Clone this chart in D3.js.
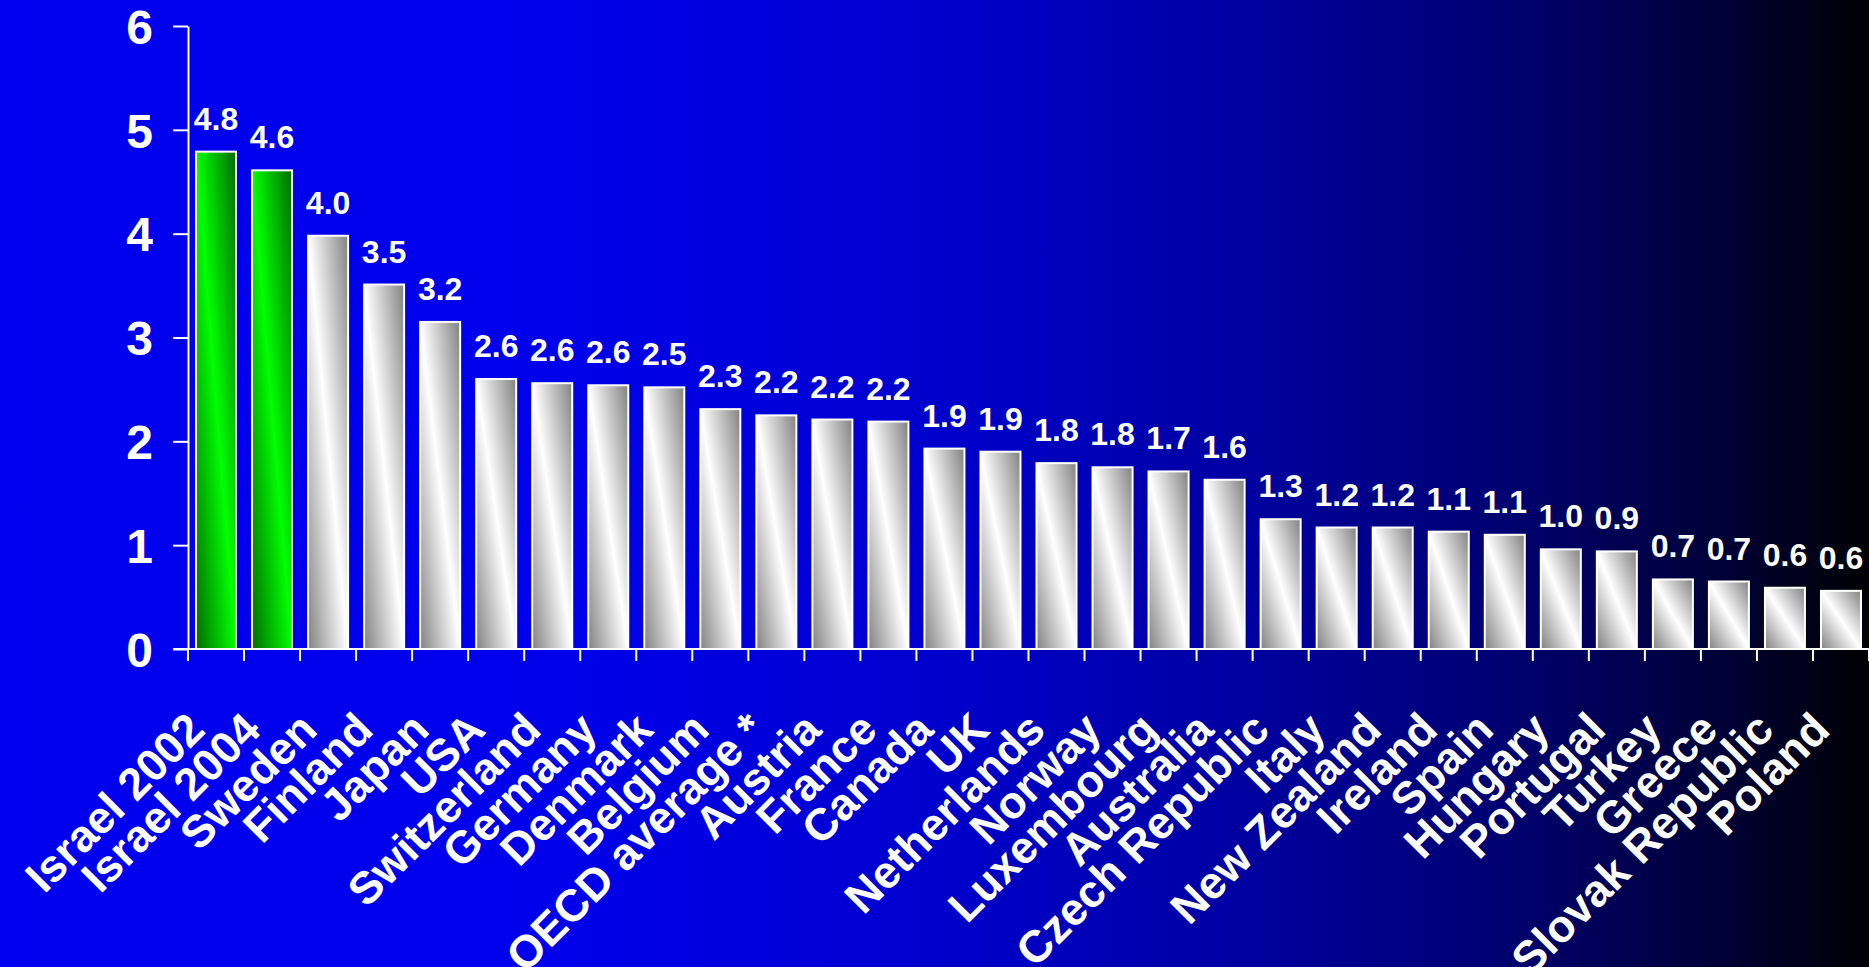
<!DOCTYPE html>
<html>
<head>
<meta charset="utf-8">
<script src="https://cdn.jsdelivr.net/npm/d3@7"></script>
<style>
  html, body { margin: 0; padding: 0; background: #000; overflow: hidden; }
  svg text { font-family: "Liberation Sans", Arial, sans-serif; font-weight: bold; fill: #fff; }
</style>
</head>
<body>
<svg id="chart" width="1869" height="967"></svg>
<script>
// data
const countries = ["Israel 2002", "Israel 2004", "Sweden", "Finland", "Japan", "USA",
  "Switzerland", "Germany", "Denmark", "Belgium", "OECD average *", "Austria", "France",
  "Canada", "UK", "Netherlands", "Norway", "Luxembourg", "Australia", "Czech Republic",
  "Italy", "New Zealand", "Ireland", "Spain", "Hungary", "Portugal", "Turkey", "Greece",
  "Slovak Republic", "Poland"];
const values = [4.79, 4.61, 3.98, 3.51, 3.15, 2.60, 2.56, 2.54, 2.52, 2.31, 2.25, 2.21, 2.19,
  1.93, 1.90, 1.79, 1.75, 1.71, 1.63, 1.25, 1.17, 1.17, 1.13, 1.10, 0.96, 0.94, 0.67, 0.65,
  0.59, 0.56];
const valueLabels = ["4.8", "4.6", "4.0", "3.5", "3.2", "2.6", "2.6", "2.6", "2.5", "2.3", "2.2",
  "2.2", "2.2", "1.9", "1.9", "1.8", "1.8", "1.7", "1.6", "1.3", "1.2", "1.2", "1.1", "1.1",
  "1.0", "0.9", "0.7", "0.7", "0.6", "0.6"];
const highlighted = ["Israel 2002", "Israel 2004"];
const yTicks = [0, 1, 2, 3, 4, 5, 6];

const data = countries.map((c, i) => ({ name: c, value: values[i], label: valueLabels[i] }));

const svg = d3.select("svg#chart");
const width = +svg.attr("width");
const height = +svg.attr("height");
const margin = { top: 26, left: 188, bottom: 318 };
const baseY = height - margin.bottom; // 649

const defs = svg.append("defs");

// background: blue fading to black on the right
const bg = defs.append("linearGradient").attr("id", "bg")
  .attr("x1", 0).attr("y1", 0).attr("x2", 1).attr("y2", 0);
[[0, 240], [0.3, 235], [0.5, 205], [0.65, 165], [0.8, 115], [0.92, 55], [1, 4]].forEach(s => {
  bg.append("stop").attr("offset", s[0]).attr("stop-color", `rgb(0,0,${s[1]})`);
});
svg.append("rect").attr("width", width).attr("height", height).attr("fill", "url(#bg)");

// diagonal bar shading
function barGradient(id, edge, mid) {
  const g = defs.append("linearGradient").attr("id", id)
    .attr("x1", 1).attr("y1", 0).attr("x2", 0).attr("y2", 1);
  g.append("stop").attr("offset", 0).attr("stop-color", edge);
  g.append("stop").attr("offset", 0.5).attr("stop-color", mid);
  g.append("stop").attr("offset", 1).attr("stop-color", edge);
}
barGradient("greenBar", "#006c00", "#00ff00");
barGradient("whiteBar", "#828282", "#ffffff");

// scales
const x = d3.scaleBand()
  .domain(countries)
  .range([margin.left, width])
  .paddingInner(0.286)
  .paddingOuter(0.143);

const y = d3.scaleLinear().domain([0, 6]).range([baseY, margin.top]);

// y axis
const yAxis = svg.append("g")
  .attr("class", "y axis")
  .attr("transform", `translate(${margin.left},0)`)
  .call(d3.axisLeft(y).tickValues(yTicks).tickFormat(d3.format("d"))
    .tickSize(15).tickSizeOuter(0).tickPadding(20));
yAxis.selectAll("path, line").attr("stroke", "#fff").attr("stroke-width", 2);
yAxis.selectAll("text")
  .attr("fill", "#fff")
  .style("font-size", "48px")
  .attr("dy", "0.36em");

// bars
svg.append("g").selectAll("rect")
  .data(data)
  .join("rect")
  .attr("x", d => x(d.name))
  .attr("y", d => y(d.value))
  .attr("width", x.bandwidth())
  .attr("height", d => baseY - y(d.value))
  .attr("fill", d => highlighted.includes(d.name) ? "url(#greenBar)" : "url(#whiteBar)")
  .attr("stroke", "#fff")
  .attr("stroke-width", 2);

// value labels
svg.append("g").selectAll("text")
  .data(data)
  .join("text")
  .attr("x", d => x(d.name) + x.bandwidth() / 2)
  .attr("y", d => y(d.value) - 22)
  .attr("text-anchor", "middle")
  .style("font-size", "32px")
  .text(d => d.label);

// x axis: line, ticks between categories, rotated names
const xAxis = svg.append("g").attr("class", "x axis");
xAxis.append("line")
  .attr("x1", margin.left - 15).attr("x2", width)
  .attr("y1", baseY).attr("y2", baseY)
  .attr("stroke", "#fff").attr("stroke-width", 2);

const bounds = countries.map(c => x(c) - x.step() * x.paddingOuter());
bounds.push(width);
xAxis.selectAll("line.tick")
  .data(bounds)
  .join("line")
  .attr("class", "tick")
  .attr("x1", d => d).attr("x2", d => d)
  .attr("y1", baseY).attr("y2", baseY + 12)
  .attr("stroke", "#fff").attr("stroke-width", 2);

const names = svg.append("g")
  .attr("transform", `translate(0,${baseY})`)
  .call(d3.axisBottom(x).tickSize(0).tickSizeOuter(0));
names.select(".domain").remove();
names.selectAll("text")
  .attr("fill", "#fff")
  .attr("x", 0).attr("y", 0).attr("dy", 0)
  .attr("text-anchor", "end")
  .attr("transform", "translate(-9,83) rotate(-45)")
  .style("font-size", "45px");
</script>
</body>
</html>
